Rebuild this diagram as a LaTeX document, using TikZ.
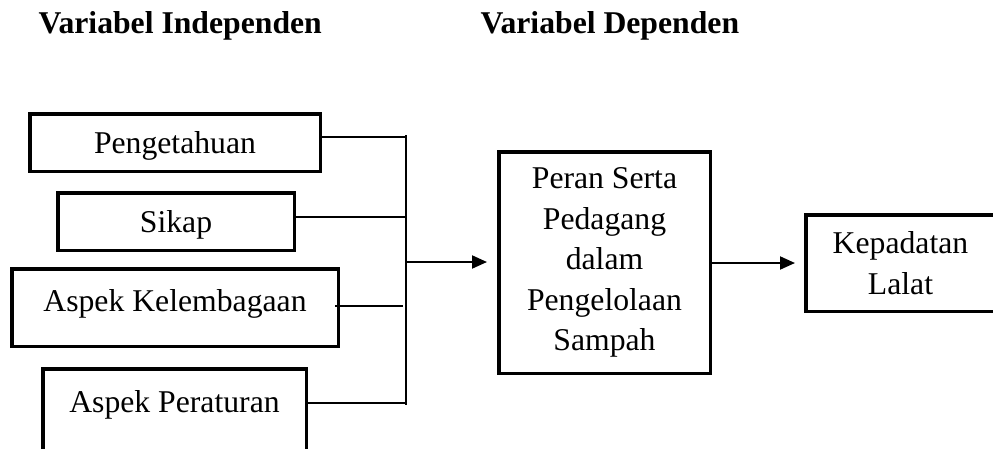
\documentclass[tikz,border=0pt]{standalone}
\usepackage{fontspec}
\setmainfont{Liberation Serif}
\usetikzlibrary{arrows.meta}
\begin{document}
\begin{tikzpicture}[x=1pt,y=-1pt,
  every node/.style={font=\fontsize{31.7}{40.5}\selectfont},
  varbox/.style={draw,line width=3.5pt,rectangle,inner sep=0pt,text height=21pt,text depth=0pt},
  multibox/.style={draw,line width=3.5pt,rectangle,inner sep=0pt,align=center},
  title/.style={anchor=base west,font=\fontsize{31.7}{38}\selectfont\bfseries},
  wire/.style={line width=1.3pt},
  flow/.style={line width=2pt,-{Triangle[length=15pt,width=13pt]}}]
\useasboundingbox (0,0) rectangle (993,448);

% headings
\node[title] (hind) at (35,33) {Variabel Independen};
\node[title] (hdep) at (477,33) {Variabel Dependen};

% independent variables
\node[varbox,minimum width=290.5pt,minimum height=57.5pt] (pe) at (175,142.5) {Pengetahuan};
\node[varbox,minimum width=236.5pt,minimum height=57.5pt] (si) at (176,221.5) {Sikap};
\node[varbox,text depth=14pt,minimum width=326.5pt,minimum height=77.5pt] (ke) at (175,307.5) {Aspek Kelembagaan};
\node[varbox,text depth=16.6pt,minimum width=263.5pt,minimum height=82.5pt] (pt) at (174.5,410) {Aspek Peraturan};

% dependent variables
\node[multibox,minimum width=211.5pt,minimum height=221.5pt] (ps) at (604.5,262.5)
  {Peran Serta\\Pedagang\\dalam\\Pengelolaan\\Sampah};
\node[multibox,minimum width=189.5pt,minimum height=96.5pt] (kl) at (900.5,263)
  {Kepadatan\\Lalat};

% collecting bus
\coordinate (btop) at (406,135);
\coordinate (bbot) at (406,405);
\coordinate (j1) at (406,137);
\coordinate (j2) at (406,217);
\coordinate (j3) at (403,306);
\coordinate (j4) at (406,403);
\coordinate (jm) at (406,262);
\draw[wire] (btop) -- (bbot);
\draw[wire] (pe.east |- j1) -- (j1);
\draw[wire] (si.east |- j2) -- (j2);
\draw[wire] ([xshift=-5pt]ke.east |- j3) -- (j3);
\draw[wire] (pt.east |- j4) -- (j4);

% arrows
\draw[flow,shorten >=10pt] (jm) -- (ps.west |- jm);
\draw[flow,shorten >=9pt] (ps.east |- kl) -- (kl.west);
\end{tikzpicture}
\end{document}
